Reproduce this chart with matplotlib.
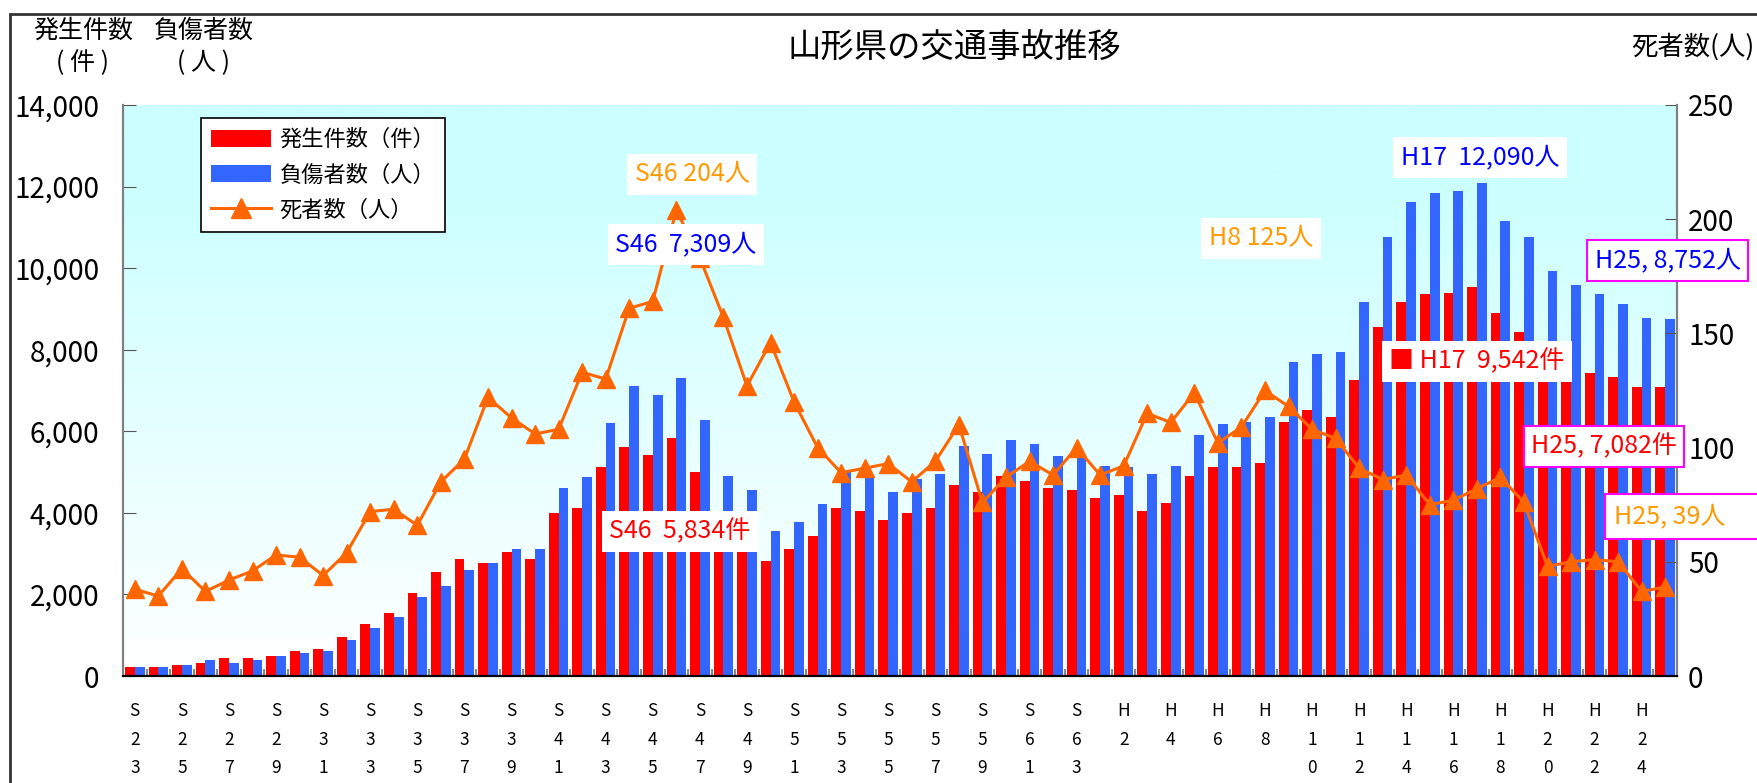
import matplotlib
matplotlib.use('Agg')
import matplotlib.pyplot as plt
import numpy as np
from matplotlib.patches import Patch, Rectangle
from matplotlib.lines import Line2D
from matplotlib.colors import LinearSegmentedColormap
from matplotlib.ticker import FuncFormatter

plt.rcParams['font.family'] = ['Noto Sans CJK JP', 'DejaVu Sans']

# 年（S23 ～ H25）
years = ['S23', 'S24', 'S25', 'S26', 'S27', 'S28', 'S29', 'S30', 'S31', 'S32',
         'S33', 'S34', 'S35', 'S36', 'S37', 'S38', 'S39', 'S40', 'S41', 'S42',
         'S43', 'S44', 'S45', 'S46', 'S47', 'S48', 'S49', 'S50', 'S51', 'S52',
         'S53', 'S54', 'S55', 'S56', 'S57', 'S58', 'S59', 'S60', 'S61', 'S62',
         'S63', 'H1', 'H2', 'H3', 'H4', 'H5', 'H6', 'H7', 'H8', 'H9',
         'H10', 'H11', 'H12', 'H13', 'H14', 'H15', 'H16', 'H17', 'H18', 'H19',
         'H20', 'H21', 'H22', 'H23', 'H24', 'H25']

# 発生件数（件）
accidents = [230, 230, 275, 325, 445, 445, 495, 610, 655, 950,
             1265, 1555, 2045, 2555, 2870, 2775, 3040, 2870, 3990, 4110,
             5115, 5610, 5430, 5834, 4990, 3900, 3300, 2825, 3115, 3435,
             4115, 4045, 3830, 3995, 4125, 4680, 4515, 4905, 4770, 4605,
             4560, 4375, 4430, 4045, 4230, 4915, 5130, 5130, 5225, 6220,
             6510, 6340, 7250, 8555, 9165, 9375, 9380, 9542, 8890, 8425,
             8000, 7650, 7430, 7325, 7090, 7082]

# 負傷者数（人）
injured = [230, 230, 275, 390, 325, 390, 495, 560, 610, 875,
           1168, 1435, 1946, 2214, 2603, 2774, 3114, 3114, 4599, 4890,
           6215, 7120, 6895, 7309, 6285, 4895, 4555, 3555, 3775, 4210,
           5010, 4910, 4517, 4836, 4945, 5628, 5446, 5792, 5683, 5383,
           5337, 5160, 5115, 4945, 5145, 5900, 6180, 6220, 6340, 7690,
           7905, 7955, 9160, 10770, 11620, 11840, 11885, 12090, 11150, 10770,
           9935, 9590, 9375, 9112, 8772, 8752]

# 死者数（人）
deaths = [38, 35, 47, 37, 42, 46, 53, 52, 44, 54,
          72, 73, 66, 85, 95, 122, 113, 106, 108, 133,
          130, 161, 164, 204, 183, 157, 127, 146, 120, 100,
          89, 91, 93, 85, 94, 110, 76, 87, 94, 88,
          100, 88, 92, 115, 111, 124, 102, 109, 125, 118,
          108, 104, 91, 86, 88, 75, 77, 82, 87, 76,
          48, 50, 51, 50, 37, 39]

W, H = 1758, 783
fig = plt.figure(figsize=(W / 100, H / 100), dpi=100)

# 外枠
fig.patches.append(Rectangle((10 / W, -0.02), 1.1, 1 - 14 / H + 0.02,
                             transform=fig.transFigure, fill=False,
                             edgecolor='#333333', lw=2))

ax = fig.add_axes([123 / W, 1 - 676 / H, 1554 / W, 571 / H])
x = np.arange(len(years))

# 背景グラデーション
cmap = LinearSegmentedColormap.from_list(
    'bg', [(0, '#ffffff'), (0.85, '#ccffff'), (1, '#ccffff')])
grad = np.linspace(0, 1, 256).reshape(-1, 1)
ax.imshow(grad, extent=[-0.5, len(years) - 0.5, 0, 14000], origin='lower',
          aspect='auto', cmap=cmap, zorder=0)

bw = 0.415
ax.bar(x - bw / 2, accidents, width=bw, color='#ff0000', zorder=2)
ax.bar(x + bw / 2, injured, width=bw, color='#3366ff', zorder=2)
ax.set_xlim(-0.5, len(years) - 0.5)
ax.set_ylim(0, 14000)
ax.set_yticks(range(0, 14001, 2000))
ax.yaxis.set_major_formatter(FuncFormatter(lambda v, p: f'{int(v):,}'))
ax.tick_params(axis='y', direction='in', length=9, labelsize=20, pad=17,
               color='#555555')

ax.set_xticks(x[::2])
ax.set_xticklabels(['\n'.join(y) for y in years[::2]], fontsize=12.5,
                   linespacing=1.75, va='top')
ax.tick_params(axis='x', length=0, pad=19)
ax.set_xticks(np.arange(0.5, len(years) - 1, 1), minor=True)
ax.tick_params(axis='x', which='minor', direction='in', length=5,
               color='#888888', width=1.5)

ax2 = ax.twinx()
ax2.plot(x, deaths, color='#ff6600', lw=2.2, marker='^', ms=13, zorder=3)
ax2.set_ylim(0, 250)
ax2.set_yticks(range(0, 251, 50))
ax2.tick_params(axis='y', direction='in', length=9, labelsize=20, pad=8,
                color='#555555')

for a in (ax, ax2):
    a.spines['top'].set_visible(False)
    a.spines['left'].set_color('#808080')
    a.spines['right'].set_color('#808080')
    a.spines['left'].set_linewidth(1.5)
    a.spines['right'].set_linewidth(1.5)
    a.spines['bottom'].set_color('black')
    a.spines['bottom'].set_linewidth(1.5)

handles = [Patch(facecolor='#ff0000'), Patch(facecolor='#3366ff'),
           Line2D([], [], color='#ff6600', lw=2.2, marker='^', ms=15)]
leg = ax2.legend(handles, ['発生件数（件）', '負傷者数（人）', '死者数（人）'],
                 loc='upper left', bbox_to_anchor=(0.05, 0.977), fontsize=16,
                 frameon=True, fancybox=False, framealpha=1, edgecolor='black',
                 handlelength=2.7, handleheight=0.8, borderpad=0.45,
                 labelspacing=0.55, handletextpad=0.4, borderaxespad=0)
leg.get_frame().set_linewidth(1.2)

# タイトル・軸見出し
fig.text(954 / W, 1 - 47 / H, '山形県の交通事故推移', ha='center', va='center',
         fontsize=24)
fig.text(83 / W, 1 - 31 / H, '発生件数', ha='center', va='center', fontsize=18)
fig.text(83 / W, 1 - 63 / H, '( 件 )', ha='center', va='center', fontsize=18)
fig.text(204 / W, 1 - 31 / H, '負傷者数', ha='center', va='center', fontsize=18)
fig.text(204 / W, 1 - 63 / H, '( 人 )', ha='center', va='center', fontsize=18)
fig.text(1693 / W, 1 - 47 / H, '死者数(人)', ha='center', va='center', fontsize=19)

# 注記
def note(px, py, s, color, edge=None):
    fig.text(px / W, 1 - py / H, s, ha='center', va='center', fontsize=18,
             color=color, zorder=5,
             bbox=dict(facecolor='white', edgecolor=edge or 'white',
                       lw=1.5 if edge else 0, boxstyle='square,pad=0.3'))

note(692, 174, 'S46 204人', '#ff9900')
note(686, 244, 'S46  7,309人', '#0000ff')
note(680, 531, 'S46  5,834件', '#ff0000')
note(1261, 238, 'H8 125人', '#ff9900')
note(1480, 157, 'H17  12,090人', '#0000ff')
note(1477, 361, '■ H17  9,542件', '#ff0000')
note(1668, 260, 'H25, 8,752人', '#0000ff', '#ff00ff')
note(1604, 446, 'H25, 7,082件', '#ff0000', '#ff00ff')

fig.patches.append(Rectangle((1605 / W, 1 - 539 / H), 160 / W, 45 / H,
                             transform=fig.transFigure, facecolor='white',
                             edgecolor='#ff00ff', lw=1.5, zorder=4))
fig.text(1614 / W, 1 - 516 / H, 'H25, 39人', ha='left', va='center',
         fontsize=18, color='#ff9900', zorder=5)

fig.savefig('out.png', dpi=100)
